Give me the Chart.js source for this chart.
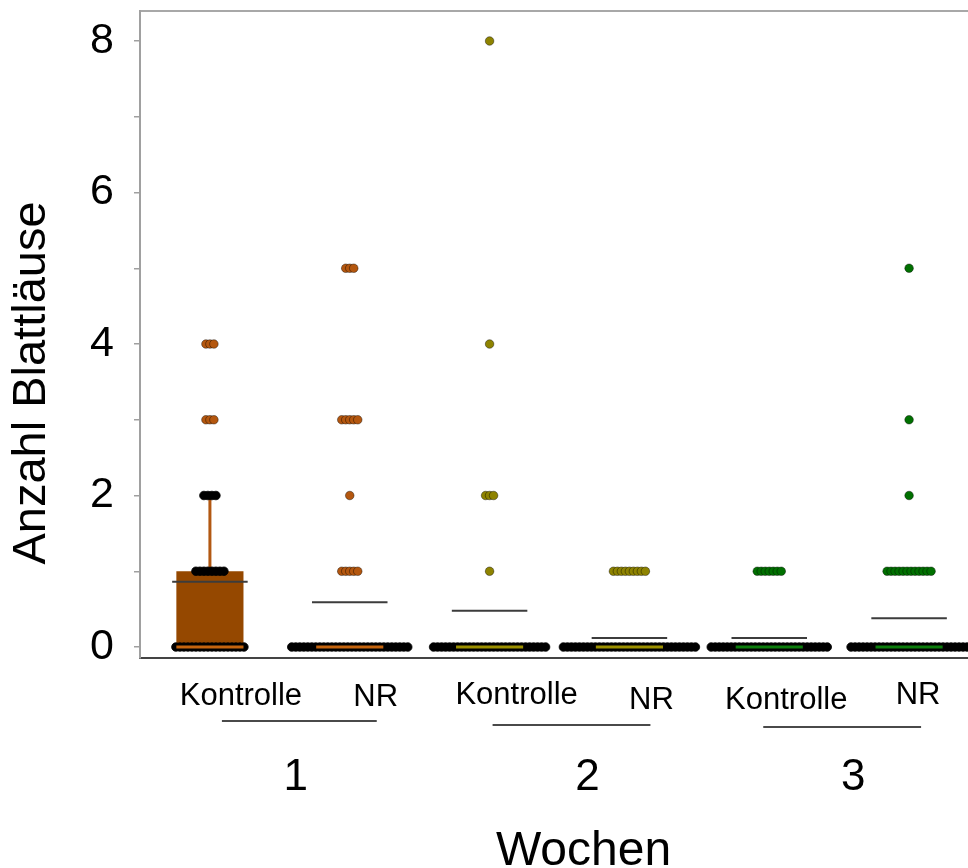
<!DOCTYPE html>
<html>
<head>
<meta charset="utf-8">
<script src="https://cdn.jsdelivr.net/npm/chart.js@4/dist/chart.umd.min.js"></script>
<style>
  html, body { margin: 0; padding: 0; background: #fff; overflow: hidden; }
  #wrap { width: 1000px; height: 868px; }
</style>
</head>
<body>
<div id="wrap"><canvas id="c" width="1000" height="868"></canvas></div>
<script>
// Aphid counts per plant, by week and treatment
const weeks = ['1', '2', '3'];
const categories = ['Kontrolle', 'NR', 'Kontrolle', 'NR', 'Kontrolle', 'NR'];
const weekOfCategory = [0, 0, 1, 1, 2, 2];

// box statistics per category
const boxQ1 = [0, 0, 0, 0, 0, 0];
const boxMedian = [0, 0, 0, 0, 0, 0];
const boxQ3 = [1, 0, 0, 0, 0, 0];
const whiskerLow = [0, 0, 0, 0, 0, 0];
const whiskerHigh = [2, 0, 0, 0, 0, 0];
const means = [0.86, 0.59, 0.48, 0.12, 0.12, 0.38];

// observed values and how many plants had each value
const obsValues = [[0, 1, 2, 3, 4], [0, 1, 2, 3, 5], [0, 1, 2, 4, 8], [0, 1], [0, 1], [0, 1, 2, 3, 5]];
const obsCounts = [[18, 8, 4, 3, 3], [30, 5, 1, 5, 3], [29, 1, 3, 1, 1], [34, 9], [30, 7], [30, 12, 1, 1, 1]];

const yTickValues = [0, 1, 2, 3, 4, 5, 6, 7, 8];
const yTickLabels = ['0', '', '2', '', '4', '', '6', '', '8'];

// colours per week
const weekBoxColors = ['#954800', '#8C8000', '#006F00'];
const weekDotColors = ['#B4570F', '#8E8300', '#007000'];
const weekMedianColors = ['#C4640E', '#9C9000', '#0C7D0C'];
const weekWhiskerColors = ['#B25812', '#8E8300', '#007000'];

const FONT = '"Liberation Sans", Arial, sans-serif';
const DOT_GAP = 0.0286;     // horizontal spread between stacked dots (x units)
const BOX_HALF = 0.24;      // half box width (x units)
const MEAN_HALF = 0.27;     // half mean-line width (x units)

Chart.defaults.font.family = FONT;
Chart.defaults.color = '#000';

// floating bars = boxes
const boxData = categories.map((c, i) => ({ x: i, y: [boxQ1[i], boxQ3[i]] }));

// dots, stacked side by side per value
const dotData = [];
categories.forEach((c, i) => {
  obsValues[i].forEach((v, j) => {
    const n = obsCounts[i][j];
    for (let k = 0; k < n; k++) {
      dotData.push({
        x: i + (k - (n - 1) / 2) * DOT_GAP,
        y: v,
        outlier: v > whiskerHigh[i] || v < whiskerLow[i],
        w: weekOfCategory[i]
      });
    }
  });
});

function hLines(values, half) {
  const out = [];
  values.forEach((v, i) => {
    out.push({ x: i - half, y: v, w: weekOfCategory[i] });
    out.push({ x: i + half, y: v, w: weekOfCategory[i] });
    out.push({ x: i + 0.5, y: null, w: weekOfCategory[i] });
  });
  return out;
}

const medianData = hLines(boxMedian, BOX_HALF);
const meanData = hLines(means, MEAN_HALF);

const whiskerData = [];
categories.forEach((c, i) => {
  if (whiskerHigh[i] > boxQ3[i]) {
    whiskerData.push({ x: i, y: boxQ3[i], w: weekOfCategory[i] });
    whiskerData.push({ x: i, y: whiskerHigh[i], w: weekOfCategory[i] });
    whiskerData.push({ x: i + 0.5, y: null, w: weekOfCategory[i] });
  }
  if (whiskerLow[i] < boxQ1[i]) {
    whiskerData.push({ x: i, y: boxQ1[i], w: weekOfCategory[i] });
    whiskerData.push({ x: i, y: whiskerLow[i], w: weekOfCategory[i] });
    whiskerData.push({ x: i + 0.5, y: null, w: weekOfCategory[i] });
  }
});

function segColor(data, palette) {
  return ctx => palette[data[ctx.p0DataIndex].w];
}

// treatment labels, week numbers, their underlines and axis titles
const weekLabels = {
  id: 'weekLabels',
  afterDraw(chart) {
    const { ctx, chartArea } = chart;
    const x = chart.scales.x;
    const base = chartArea.bottom;
    const catNudge = [31, 26, 27, 22, 17, 9];
    const catDrop = [47, 48, 46, 51, 51, 46];
    const numNudge = [16, 28, 14];
    const lineStart = [12, 3, -6];
    const lineEnd = [27, 21, 12];
    const lineDrop = [63, 67, 69];
    ctx.save();
    ctx.fillStyle = '#000';
    ctx.strokeStyle = '#4a4a4a';
    ctx.lineWidth = 2;
    ctx.textAlign = 'center';
    ctx.textBaseline = 'alphabetic';
    ctx.font = '31px ' + FONT;
    categories.forEach((c, i) => {
      ctx.fillText(c, x.getPixelForValue(i) + catNudge[i], base + catDrop[i]);
    });
    weeks.forEach((wk, w) => {
      const a = x.getPixelForValue(2 * w);
      const b = x.getPixelForValue(2 * w + 1);
      ctx.beginPath();
      ctx.moveTo(a + lineStart[w], base + lineDrop[w]);
      ctx.lineTo(b + lineEnd[w], base + lineDrop[w]);
      ctx.stroke();
      ctx.font = '44px ' + FONT;
      ctx.fillText(wk, (a + b) / 2 + numNudge[w], base + 132);
    });
    ctx.font = '48px ' + FONT;
    ctx.fillText('Wochen', (x.left + x.right) / 2 + 24, base + 207);

    ctx.translate(32, 383);
    ctx.rotate(-Math.PI / 2);
    ctx.font = '47px ' + FONT;
    ctx.textBaseline = 'middle';
    ctx.fillText('Anzahl Blattläuse', 0, 0);
    ctx.restore();
  }
};

new Chart(document.getElementById('c'), {
  type: 'scatter',
  data: {
    datasets: [
      {
        type: 'bar',
        data: boxData,
        backgroundColor: categories.map((c, i) => weekBoxColors[weekOfCategory[i]]),
        borderWidth: 0,
        barPercentage: 0.48,
        categoryPercentage: 1,
        order: 5
      },
      {
        type: 'line',
        data: whiskerData,
        showLine: true,
        spanGaps: false,
        pointRadius: 0,
        borderWidth: 3,
        borderColor: weekWhiskerColors[0],
        segment: { borderColor: segColor(whiskerData, weekWhiskerColors) },
        order: 4
      },
      {
        type: 'scatter',
        data: dotData,
        pointRadius: 4.3,
        pointHoverRadius: 4.3,
        pointBorderWidth: 0.8,
        pointBackgroundColor: ctx => ctx.raw && ctx.raw.outlier ? weekDotColors[ctx.raw.w] : '#000',
        pointBorderColor: ctx => ctx.raw && ctx.raw.outlier ? 'rgba(0,0,0,0.5)' : '#000',
        order: 3
      },
      {
        type: 'line',
        data: medianData,
        showLine: true,
        spanGaps: false,
        pointRadius: 0,
        borderWidth: 3,
        borderCapStyle: 'butt',
        borderColor: weekMedianColors[0],
        segment: { borderColor: segColor(medianData, weekMedianColors) },
        order: 2
      },
      {
        type: 'line',
        data: meanData,
        showLine: true,
        spanGaps: false,
        pointRadius: 0,
        borderWidth: 2,
        borderCapStyle: 'butt',
        borderColor: '#3c3c3c',
        order: 1
      }
    ]
  },
  options: {
    responsive: false,
    animation: false,
    events: [],
    layout: { padding: { top: 11, right: 21, bottom: 0, left: 0 } },
    plugins: { legend: { display: false }, tooltip: { enabled: false } },
    scales: {
      x: {
        type: 'linear',
        position: 'bottom',
        min: -0.5,
        max: 5.5,
        offset: false,
        afterBuildTicks: axis => { axis.ticks = categories.map((c, i) => ({ value: i })); },
        afterFit: axis => { axis.height = 210; axis.paddingLeft = 0; axis.paddingRight = 0; },
        grid: { display: false, drawTicks: false },
        border: { display: true, color: '#444', width: 2 },
        ticks: { display: false }
      },
      xTop: {
        type: 'linear',
        position: 'top',
        min: 0,
        max: 1,
        afterFit: axis => { axis.height = 0; axis.paddingLeft = 0; axis.paddingRight = 0; },
        grid: { display: false, drawTicks: false },
        ticks: { display: false },
        border: { display: true, color: '#a8a8a8', width: 2 }
      },
      y: {
        type: 'linear',
        min: -0.145,
        max: 8.396,
        afterBuildTicks: axis => { axis.ticks = yTickValues.map(v => ({ value: v })); },
        afterFit: axis => { axis.width = 140; axis.paddingTop = 0; axis.paddingBottom = 0; },
        grid: { display: true, drawOnChartArea: false, drawTicks: true, tickLength: 6, color: '#a0a0a0', lineWidth: 1.5 },
        border: { display: true, color: '#a0a0a0', width: 2 },
        ticks: {
          autoSkip: false,
          padding: 20,
          font: { size: 43 },
          color: '#000',
          callback: v => yTickLabels[yTickValues.indexOf(v)]
        }
      }
    }
  },
  plugins: [weekLabels]
});
</script>
</body>
</html>
